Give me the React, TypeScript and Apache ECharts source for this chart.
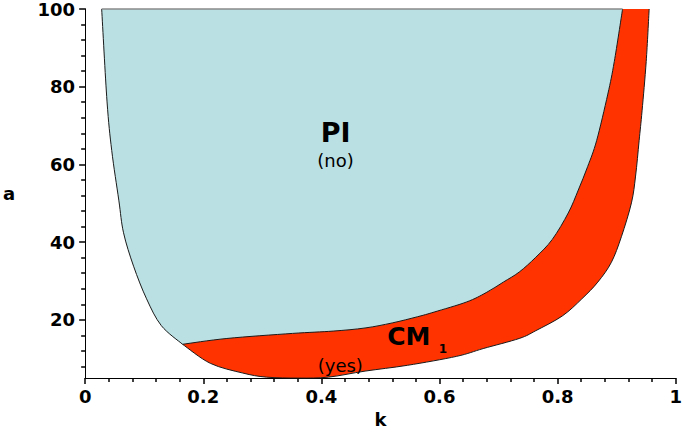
import React, { useEffect, useRef } from 'react';
import * as echarts from 'echarts';

// Left boundary of the PI region, from top (a=100) down to the junction point
const piLeftEdge: [number, number][] = [
  [0.028, 100], [0.037, 76.3], [0.045, 63.6], [0.057, 50.8], [0.065, 42.4],
  [0.082, 33.8], [0.104, 25.4], [0.129, 18.5], [0.165, 13.7],
];

// Boundary shared by PI and CM1, from the junction up to a=100
const sharedEdge: [number, number][] = [
  [0.165, 13.7], [0.24, 15.2], [0.351, 16.5], [0.42, 17.1], [0.474, 17.9],
  [0.52, 19.2], [0.563, 20.8], [0.591, 22.0], [0.646, 24.6], [0.679, 27.0],
  [0.708, 29.7], [0.735, 32.3], [0.763, 36.1], [0.791, 40.7], [0.818, 47.5],
  [0.835, 53.4], [0.851, 59.5], [0.866, 66.1], [0.885, 78.1], [0.896, 86.5],
  [0.91, 100],
];

// Outer (lower / right) boundary of the CM1 region, from the junction to a=100
const cmOuterEdge: [number, number][] = [
  [0.165, 13.7], [0.212, 8.8], [0.267, 6.3], [0.307, 5.25], [0.362, 5.0],
  [0.412, 5.25], [0.474, 6.8], [0.546, 8.3], [0.629, 10.6], [0.674, 12.6],
  [0.735, 15.2], [0.763, 17.2], [0.808, 21.0], [0.841, 25.4], [0.868, 29.7],
  [0.891, 34.8], [0.908, 41.4], [0.925, 50.1], [0.932, 57.0], [0.938, 66.1],
  [0.943, 73.8], [0.95, 86.5], [0.955, 100],
];

const yMajorTicks = [20, 40, 60, 80, 100];
const yMinorTicks = [8, 12, 16, 24, 28, 32, 36, 44, 48, 52, 56, 64, 68, 72, 76, 84, 88, 92, 96];

const BLUE = '#bae0e3';
const RED = '#ff3300';
const AXIS_FONT = 'DejaVu Sans';

const SmoothRegion = echarts.graphic.extendShape({
  type: 'smoothRegion',
  shape: { edges: [] as number[][][], close: true },
  buildPath(ctx: any, shape: any) {
    const edges: number[][][] = shape.edges || [];
    let started = false;
    const t = 1 / 6;
    for (const pts of edges) {
      if (!pts || !pts.length) continue;
      if (!started) {
        ctx.moveTo(pts[0][0], pts[0][1]);
        started = true;
      } else {
        ctx.lineTo(pts[0][0], pts[0][1]);
      }
      for (let i = 0; i < pts.length - 1; i++) {
        const p0 = pts[i - 1] || pts[i];
        const p1 = pts[i];
        const p2 = pts[i + 1];
        const p3 = pts[i + 2] || p2;
        ctx.bezierCurveTo(
          p1[0] + (p2[0] - p0[0]) * t,
          p1[1] + (p2[1] - p0[1]) * t,
          p2[0] - (p3[0] - p1[0]) * t,
          p2[1] - (p3[1] - p1[1]) * t,
          p2[0],
          p2[1]
        );
      }
    }
    if (shape.close) ctx.closePath();
  },
} as any);
echarts.graphic.registerShape('smoothRegion', SmoothRegion as any);

export default function App() {
  const ref = useRef<HTMLDivElement>(null);
  useEffect(() => {
    if (!ref.current) return;
    const chart = echarts.init(ref.current, null, { renderer: 'svg' });
    const labelStyle = {
      color: '#000',
      fontFamily: AXIS_FONT,
      fontWeight: 'bold' as const,
      fontSize: 18,
    };
    const tickLine = { color: '#000', width: 1.5 };
    const textFont = (size: number, bold: boolean) =>
      `${bold ? 'bold ' : ''}${size}px "DejaVu Sans", Verdana, sans-serif`;
    chart.setOption({
      animation: false,
      backgroundColor: '#fff',
      grid: { left: 83, right: 3, top: 7, bottom: 53 },
      xAxis: {
        type: 'value',
        min: 0,
        max: 1,
        interval: 0.2,
        name: 'k',
        nameLocation: 'middle',
        nameGap: 26,
        nameTextStyle: { ...labelStyle },
        axisLine: { show: true, lineStyle: { color: '#000', width: 1 } },
        axisTick: { show: true, inside: false, length: 6, lineStyle: tickLine },
        minorTick: { show: true, splitNumber: 5, length: 4, lineStyle: tickLine },
        axisLabel: { ...labelStyle, margin: 9 },
        splitLine: { show: false },
        minorSplitLine: { show: false },
      },
      yAxis: [
        {
          type: 'value',
          position: 'left',
          min: 5,
          max: 100,
          name: 'a',
          nameLocation: 'middle',
          nameRotate: 0,
          nameGap: 70,
          nameTextStyle: { ...labelStyle },
          axisLine: { show: true, lineStyle: { color: '#000', width: 1 } },
          axisTick: { show: true, inside: false, length: 6, customValues: yMajorTicks, lineStyle: tickLine },
          axisLabel: { ...labelStyle, margin: 10, customValues: yMajorTicks },
          splitLine: { show: false },
        },
        {
          type: 'value',
          position: 'left',
          min: 5,
          max: 100,
          axisLine: { show: true, lineStyle: { color: '#000', width: 1 } },
          axisTick: { show: true, inside: false, length: 4, customValues: yMinorTicks, lineStyle: tickLine },
          axisLabel: { show: false },
          splitLine: { show: false },
        },
      ],
      series: [
        {
          type: 'custom',
          coordinateSystem: 'cartesian2d',
          xAxisIndex: 0,
          yAxisIndex: 0,
          silent: true,
          clip: false,
          data: [[0.5, 50]],
          renderItem: (_params: any, api: any) => {
            const c = (p: [number, number]) => api.coord(p);
            const left = piLeftEdge.map(c);
            const shared = sharedEdge.map(c);
            const outer = cmOuterEdge.map(c);
            const sharedRev = shared.slice().reverse();
            const topL = left[0];
            const topR = shared[shared.length - 1];
            const txt = (p: [number, number], text: string, font: string) => {
              const q = api.coord(p);
              return {
                type: 'text',
                x: q[0],
                y: q[1],
                style: { text, font, fill: '#000', align: 'center', verticalAlign: 'middle' },
              };
            };
            const edgeStyle = { stroke: '#1a1a1a', lineWidth: 1, fill: 'none' };
            return {
              type: 'group',
              children: [
                { type: 'smoothRegion', shape: { edges: [left, shared], close: true }, style: { fill: BLUE } },
                { type: 'smoothRegion', shape: { edges: [outer, sharedRev], close: true }, style: { fill: RED } },
                { type: 'smoothRegion', shape: { edges: [left], close: false }, style: edgeStyle },
                { type: 'smoothRegion', shape: { edges: [shared], close: false }, style: edgeStyle },
                { type: 'smoothRegion', shape: { edges: [outer], close: false }, style: edgeStyle },
                {
                  type: 'smoothRegion',
                  shape: { edges: [[topL, topR]], close: false },
                  style: { stroke: '#8a8a8a', lineWidth: 1.5, fill: 'none' },
                },
                txt([0.424, 68.2], 'PI', textFont(27, true)),
                txt([0.424, 61.0], '(no)', textFont(18, false)),
                txt([0.548, 15.7], 'CM', textFont(25, true)),
                txt([0.606, 12.4], '1', textFont(12, true)),
                txt([0.432, 8.3], '(yes)', textFont(18, false)),
              ],
            };
          },
        },
      ],
    });
    return () => chart.dispose();
  }, []);
  return (
    <div
      ref={ref}
      style={{ position: 'absolute', left: 0, top: 0, width: 685, height: 433 }}
    />
  );
}
